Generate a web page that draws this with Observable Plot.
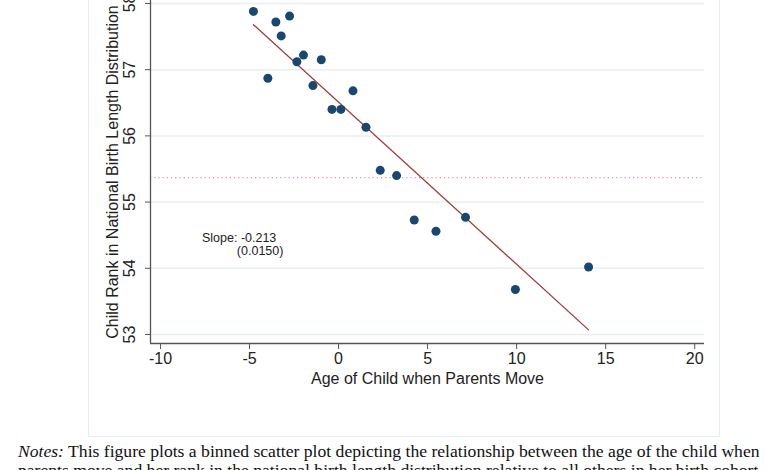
<!DOCTYPE html>
<html><head><meta charset="utf-8">
<script src="https://cdn.jsdelivr.net/npm/d3@7"></script>
<script src="https://cdn.jsdelivr.net/npm/@observablehq/plot@0.6"></script>
<style>
body{margin:0;background:#fff;width:780px;height:470px;overflow:hidden;position:relative;font-family:"Liberation Sans",Arial,sans-serif}
#frame{position:absolute;left:88px;top:-10px;width:630px;height:445px;border:1.5px solid #e6eeee;}
#chart{position:absolute;left:0;top:0}
#notes{position:absolute;left:18px;top:442px;font-family:"Liberation Serif","DejaVu Serif",serif;font-size:16px;line-height:19px;color:#111;white-space:nowrap}
</style></head><body>
<div id="frame"></div>
<div id="chart"></div>
<div id="notes"><div id="l1"><i>Notes:</i> This figure plots a binned scatter plot depicting the relationship between the age of the child when</div><div id="l2">parents move and her rank in the national birth length distribution relative to all others in her birth cohort</div></div>
<script>
// Data
const ageBins = [-4.78,-3.97,-3.52,-3.22,-2.75,-2.34,-1.97,-1.44,-0.97,-0.37,0.13,0.81,1.54,2.34,3.26,4.25,5.47,7.13,9.93,14.04];
const rankValues = [57.88,56.87,57.72,57.51,57.81,57.12,57.22,56.76,57.15,56.40,56.40,56.68,56.13,55.48,55.40,54.73,54.56,54.77,53.68,54.02];
const fitX = [-4.78, 14.04];
const fitY = [57.68, 53.07];
const meanRank = 55.37;
const xTicks = [-10,-5,0,5,10,15,20];
const yTicks = [53,54,55,56,57,58];
const xDomain = [-10.56, 20.55];
const yDomain = [52.864, 58.045];
const slopeText = ["Slope: -0.213", "(0.0150)"];
const slopeX = [-7.67, -5.71];
const slopeY = [54.46, 54.26];

const points = ageBins.map((x, i) => ({x, y: rankValues[i]}));
const fit = fitX.map((x, i) => ({x, y: fitY[i]}));
const slopeLabels = slopeText.map((t, i) => ({x: slopeX[i], y: slopeY[i], t}));
const plain = d => String(d);

const chart = Plot.plot({
  width: 780, height: 440,
  marginLeft: 150, marginRight: 76, marginTop: 0, marginBottom: 97,
  style: {background: "transparent", fontFamily: "'Liberation Sans', Arial, sans-serif", fontSize: "16px", color: "#222", overflow: "visible"},
  x: {domain: xDomain},
  y: {domain: yDomain},
  marks: [
    Plot.ruleY(yTicks, {stroke: "#e8f0f0", strokeWidth: 1.5}),
    Plot.ruleY([meanRank], {stroke: "#ef8a9c", strokeDasharray: "1.2,3", strokeWidth: 1.1}),
    Plot.line(fit, {x: "x", y: "y", stroke: "#9e3d3b", strokeWidth: 1.3}),
    Plot.dot(points, {x: "x", y: "y", r: 4.5, fill: "#1a476f", stroke: "none"}),
    Plot.text(slopeLabels, {x: "x", y: "y", text: "t", textAnchor: "start", fontSize: 12.5, fill: "#222"}),
    Plot.ruleX([xDomain[0]], {stroke: "#555", strokeWidth: 1.3}),
    Plot.ruleY([yDomain[0]], {stroke: "#555", strokeWidth: 1.3}),
    Plot.axisX({ticks: xTicks, tickFormat: plain, tickSize: 6, tickPadding: 3, stroke: "#555", label: "Age of Child when Parents Move", labelAnchor: "center", labelArrow: "none", labelOffset: 40}),
    Plot.axisY({ticks: yTicks, tickFormat: plain, tickSize: 5, tickRotate: -90, tickPadding: 11, stroke: "#555", label: "Child Rank in National Birth Length Distribution", labelAnchor: "center", labelArrow: "none", labelOffset: 44})
  ]
});
document.getElementById("chart").appendChild(chart);

// fit the notes line to the reference width
const l1 = document.getElementById("l1");
const notes = document.getElementById("notes");
const w = l1.getBoundingClientRect().width;
notes.style.fontSize = (16 * 742 / w) + "px";
</script>
</body></html>
